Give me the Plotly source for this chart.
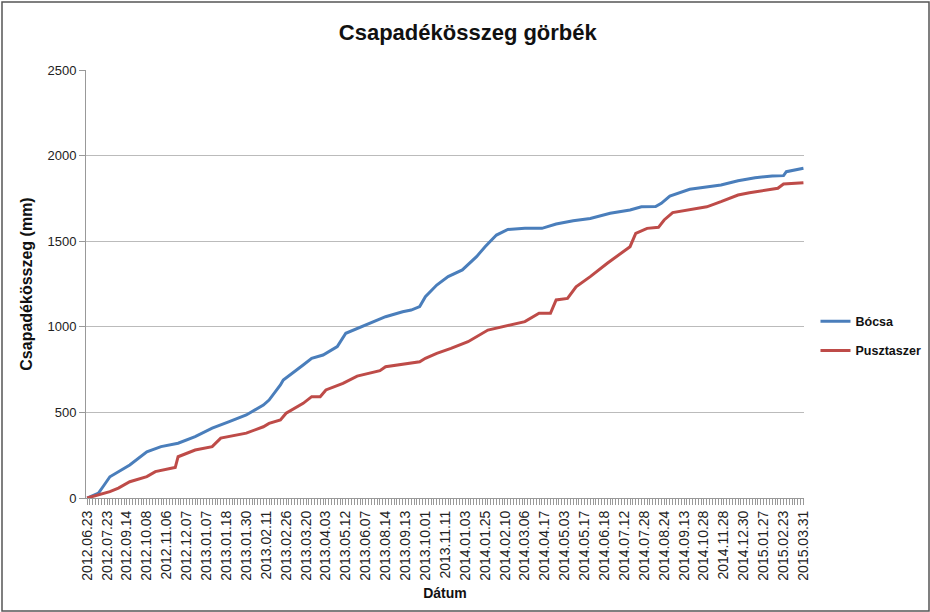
import plotly.graph_objects as go

# Category axis: labelled every 7th category (253 categories in total)
tick_labels = ["2012.06.23", "2012.07.23", "2012.09.14", "2012.10.08", "2012.11.06", "2012.12.07",
               "2013.01.07", "2013.01.18", "2013.01.30", "2013.02.11", "2013.02.26", "2013.03.20",
               "2013.04.03", "2013.05.12", "2013.06.07", "2013.08.14", "2013.09.13", "2013.10.01",
               "2013.11.11", "2014.01.03", "2014.01.25", "2014.02.10", "2014.03.06", "2014.04.17",
               "2014.05.03", "2014.05.17", "2014.06.18", "2014.07.12", "2014.07.28", "2014.08.24",
               "2014.09.13", "2014.10.28", "2014.11.28", "2014.12.30", "2015.01.27", "2015.02.23",
               "2015.03.31"]
label_step = 7
n_categories = (len(tick_labels) - 1) * label_step + 1

# Bócsa cumulative precipitation (mm), sampled at category indices
bocsa_idx = [0, 4, 6, 8, 15, 21, 26, 32, 38, 44, 50, 56, 62, 64, 68, 69, 76, 79, 83, 88, 91, 95,
             99, 105, 111, 114, 117, 119, 123, 127, 132, 137, 140, 144, 148, 154, 160, 165, 171,
             177, 184, 191, 195, 200, 202, 205, 212, 218, 223, 229, 235, 241, 245, 246, 251, 252]
bocsa_val = [0, 29, 76, 124, 193, 270, 300, 320, 358, 408, 446, 485, 543, 572, 660, 689, 777, 816,
             835, 884, 962, 991, 1016, 1059, 1088, 1098, 1118, 1176, 1244, 1293, 1332, 1410, 1468,
             1536, 1569, 1575, 1575, 1600, 1620, 1633, 1663, 1682, 1701, 1702, 1721, 1764, 1803,
             1818, 1828, 1853, 1871, 1881, 1883, 1906, 1922, 1926]

# Pusztaszer cumulative precipitation (mm)
puszta_idx = [0, 4, 8, 11, 15, 21, 24, 30, 31, 32, 38, 44, 47, 56, 62, 64, 68, 70, 76, 79, 82, 84,
              90, 95, 99, 103, 105, 111, 117, 119, 123, 128, 134, 141, 148, 154, 159, 163, 165,
              169, 172, 177, 183, 187, 191, 193, 197, 201, 203, 206, 212, 218, 223, 229, 233, 239,
              243, 245, 252]
puszta_val = [0, 17, 37, 58, 95, 125, 154, 175, 178, 241, 280, 300, 350, 379, 416, 436, 456, 495,
              553, 592, 592, 631, 670, 712, 728, 744, 767, 783, 796, 816, 845, 874, 913, 981, 1005,
              1030, 1079, 1079, 1157, 1166, 1234, 1293, 1371, 1419, 1468, 1546, 1575, 1581, 1624,
              1667, 1686, 1701, 1731, 1770, 1783, 1799, 1809, 1834, 1842]

y_ticks = [0, 500, 1000, 1500, 2000, 2500]

FONT = "Liberation Sans Narrow, Arial Narrow, Liberation Sans, Arial, sans-serif"

# one tick per category, text only on every label_step-th
all_ticks = list(range(n_categories))
all_text = [tick_labels[i // label_step] if i % label_step == 0 else "" for i in all_ticks]

fig = go.Figure()
fig.add_trace(go.Scatter(x=bocsa_idx, y=bocsa_val, mode="lines", name="<b>Bócsa</b>",
                         legendgroup="a", line=dict(color="#4A7EBB", width=3)))
fig.add_trace(go.Scatter(x=puszta_idx, y=puszta_val, mode="lines", name="<b>Pusztaszer</b>",
                         legendgroup="b", line=dict(color="#BE4B48", width=3)))

fig.update_layout(
    width=930, height=612,
    margin=dict(l=86, r=126, t=70, b=114, autoexpand=False),
    paper_bgcolor="white", plot_bgcolor="white",
    font=dict(family=FONT, color="#222222", size=13),
    title=dict(text="<b>Csapadékösszeg görbék</b>", x=0.503, xanchor="center",
               y=0.948, yanchor="middle", font=dict(size=22, color="#111111")),
    showlegend=True,
    legend=dict(x=1.016, y=0.447, xanchor="left", yanchor="top",
                font=dict(size=12.5, color="#111111"), tracegroupgap=10,
                itemwidth=30, bgcolor="rgba(0,0,0,0)"),
    shapes=[dict(type="rect", xref="paper", yref="paper",
                 x0=(2 - 86) / 718, x1=(929 - 86) / 718,
                 y0=1 - (611 - 70) / 428, y1=1 + (70 - 2) / 428,
                 line=dict(color="#555555", width=1.5))],
)

fig.update_xaxes(
    range=[-0.4, n_categories - 1 + 0.2],
    tickmode="array",
    tickvals=all_ticks,
    ticktext=all_text,
    tickangle=-90,
    tickfont=dict(size=14, color="#222222"),
    ticks="outside", ticklen=6, tickcolor="#999999",
    showline=True, linecolor="#999999", linewidth=1,
    showgrid=False, zeroline=False,
    title=dict(text="<b>Dátum</b>", font=dict(size=14, color="#111111"), standoff=8),
)
fig.update_yaxes(
    range=[0, 2500],
    tickmode="array", tickvals=y_ticks,
    tickfont=dict(size=13, color="#222222"),
    ticks="outside", ticklen=6, tickcolor="#999999",
    showline=True, linecolor="#999999", linewidth=1,
    showgrid=True, gridcolor="#BBBBBB", gridwidth=1,
    zeroline=False,
    title=dict(text="<b>Csapadékösszeg (mm)</b>", font=dict(size=16, color="#111111"),
               standoff=10),
)

fig.write_html("out.html",
               config={"displayModeBar": False},
               post_script="document.body.style.margin='0';document.body.style.padding='0';")
